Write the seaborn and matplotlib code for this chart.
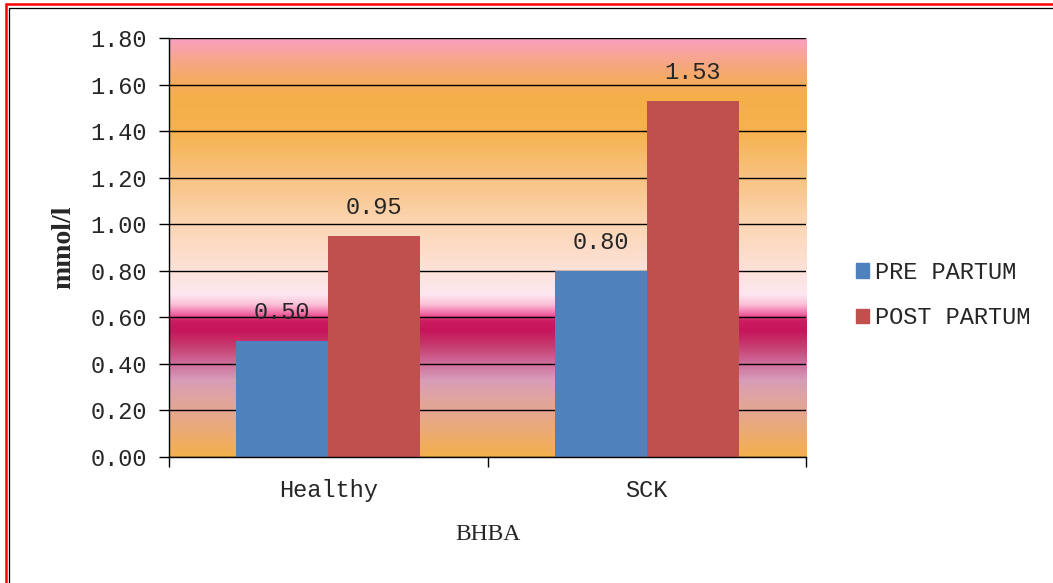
import numpy as np
import pandas as pd
import matplotlib
matplotlib.use("Agg")
import matplotlib.pyplot as plt
from matplotlib.colors import LinearSegmentedColormap
from matplotlib.lines import Line2D
import seaborn as sns

# BHBA concentration (mmol/l) by group
categories = ["Healthy", "SCK"]
series_names = ["PRE PARTUM", "POST PARTUM"]
pre_partum = [0.50, 0.80]
post_partum = [0.95, 1.53]
y_ticks = [0.0, 0.2, 0.4, 0.6, 0.8, 1.0, 1.2, 1.4, 1.6, 1.8]

df = pd.DataFrame({
    "group": categories * 2,
    "period": [series_names[0]] * len(categories) + [series_names[1]] * len(categories),
    "value": pre_partum + post_partum,
})

sns.set_theme(style="white")
plt.rcParams["font.family"] = ["Liberation Mono", "DejaVu Sans Mono"]

W, H = 1053, 583
fig = plt.figure(figsize=(W / 100, H / 100), dpi=100)
ax = fig.add_axes([169 / W, 1 - 457 / H, (806 - 169) / W, (457 - 38) / H])

palette = {"PRE PARTUM": "#4F81BD", "POST PARTUM": "#C0504D"}
sns.barplot(data=df, x="group", y="value", hue="period", order=categories,
            hue_order=series_names, palette=palette, width=0.578, gap=0,
            saturation=1, errorbar=None, ax=ax, zorder=3, legend=True,
            edgecolor="none", linewidth=0)

# vertical gradient fill of the plotting area
stops = [
    (0.00, "#F5B04C"),
    (0.08, "#EEAC6A"),
    (0.17, "#E6A888"),
    (0.25, "#E0A4A0"),
    (0.33, "#D89CB8"),
    (0.40, "#CE6E9C"),
    (0.48, "#C63A6C"),
    (0.545, "#C6145A"),
    (0.585, "#CC1C60"),
    (0.615, "#F068A4"),
    (0.655, "#FAC0D6"),
    (0.70, "#FDE8F0"),
    (0.80, "#FDE2DA"),
    (1.00, "#FCD6B4"),
    (1.20, "#F8C282"),
    (1.40, "#F6B24E"),
    (1.55, "#F5AF48"),
    (1.68, "#F6A87C"),
    (1.80, "#F9A0C2"),
]
cmap = LinearSegmentedColormap.from_list(
    "bg", [(v / 1.8, c) for v, c in stops], N=1024)
grad = np.linspace(0, 1, 1024).reshape(-1, 1)
ax.imshow(grad, cmap=cmap, origin="lower", aspect="auto",
          extent=[-0.5, 1.5, 0, 1.8], zorder=0, interpolation="bilinear")

ax.set_xlim(-0.5, 1.5)
ax.set_ylim(0, 1.8)
ax.set_yticks(y_ticks)
ax.set_yticklabels([f"{t:.2f}" for t in y_ticks], fontsize=17)
ax.yaxis.grid(True, color="black", linewidth=1.0, zorder=1)
ax.xaxis.grid(False)
ax.set_axisbelow(False)
for gl in ax.get_ygridlines():
    gl.set_zorder(1)

ax.set_xticks([0, 1])
ax.set_xticklabels(categories, fontsize=17)
ax.set_xticks([-0.5, 0.5, 1.5], minor=True)
ax.tick_params(axis="x", which="major", length=0, pad=16)
ax.tick_params(axis="x", which="minor", length=7, width=1, color="black",
               direction="out", bottom=True)
ax.tick_params(axis="y", length=7, width=1, color="black", direction="out",
               left=True, pad=9)

for side in ["right", "top"]:
    ax.spines[side].set_visible(False)
for side in ["left", "bottom"]:
    ax.spines[side].set_visible(True)
    ax.spines[side].set_color("black")
    ax.spines[side].set_linewidth(1.0)
    ax.spines[side].set_zorder(4)

ax.set_xlabel("BHBA", family=["Liberation Serif"], fontsize=17, labelpad=16)
ax.set_ylabel("mmol/l", family=["Liberation Serif"], fontsize=20,
              fontweight="bold", labelpad=10)

# value labels above each bar
for container in ax.containers:
    ax.bar_label(container, fmt="%.2f", padding=12, fontsize=17, zorder=5)

leg = ax.get_legend()
if leg is not None:
    leg.remove()
handles = [plt.Rectangle((0, 0), 1, 1, color=palette[s]) for s in series_names]
fig.legend(handles, series_names, loc="center left",
           bbox_to_anchor=(844 / W, 1 - 295 / H), frameon=False,
           fontsize=17, handlelength=0.55, handleheight=0.55,
           handletextpad=0.25, labelspacing=0.95, borderpad=0)

# double frame around the chart
fig.add_artist(Line2D([6 / W, 6 / W], [0, 1 - 4 / H], transform=fig.transFigure,
                      color="#FF0000", linewidth=1.8))
fig.add_artist(Line2D([6 / W, 1], [1 - 4 / H, 1 - 4 / H], transform=fig.transFigure,
                      color="#FF0000", linewidth=1.8))
fig.add_artist(Line2D([8.5 / W, 8.5 / W], [0, 1 - 7.5 / H], transform=fig.transFigure,
                      color="black", linewidth=0.9))
fig.add_artist(Line2D([8.5 / W, 1], [1 - 7.5 / H, 1 - 7.5 / H], transform=fig.transFigure,
                      color="black", linewidth=0.9))

fig.savefig("out.png", dpi=100, facecolor="white")
